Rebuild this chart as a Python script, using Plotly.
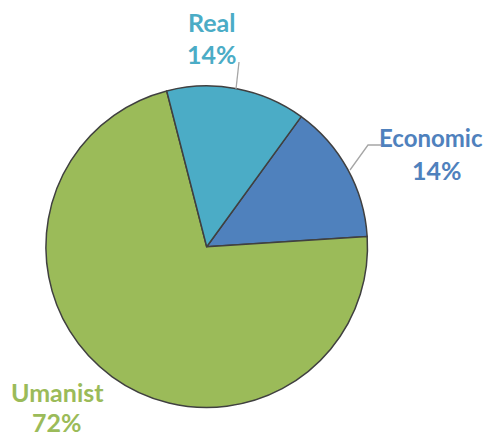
import plotly.graph_objects as go

labels = ["Economic", "Umanist", "Real"]
values = [14, 72, 14]
colors = ["#4F81BD", "#9BBB59", "#4BACC6"]
pct_text = ["14%", "72%", "14%"]

# the page body has an 8px margin; the figure is drawn from (8, 8) of the window
OFF = 8
W, H = 492 - OFF, 434 - OFF
cx, cy, r = 206.7 - OFF, 246.7 - OFF, 160.8

fig = go.Figure(go.Pie(
    labels=labels,
    values=values,
    sort=False,
    direction="clockwise",
    rotation=36,
    marker=dict(colors=colors, line=dict(color="#404040", width=1.5)),
    textinfo="none",
    hoverinfo="label+percent",
    showlegend=False,
    domain=dict(x=[(cx - r) / W, (cx + r) / W], y=[1 - (cy + r) / H, 1 - (cy - r) / H]),
))

font_family = "Lato, 'Open Sans', sans-serif"

def add_text(txt, x, y, col, size, xanchor="center"):
    fig.add_annotation(
        x=(x - OFF) / W, y=1 - (y - OFF) / H, xref="paper", yref="paper",
        text=f"<b>{txt}</b>", showarrow=False,
        font=dict(family=font_family, size=size, color=col),
        align="center", xanchor=xanchor, yanchor="middle",
    )

# (name line, percent line) positions in window pixels
name_pos = {"Economic": (485, 137, "right", 24), "Umanist": (57, 392, "center", 25), "Real": (211.5, 22, "center", 25)}
pct_pos = {"Economic": (437, 170), "Umanist": (57, 422), "Real": (211.5, 53.5)}
for lab, col, pt in zip(labels, colors, pct_text):
    x, y, anc, sz = name_pos[lab]
    add_text(lab, x, y, col, sz, anc)
    x2, y2 = pct_pos[lab]
    add_text(pt, x2, y2, col, 25)

def P(px, py):
    return f"{(px - OFF) / W} {1 - (py - OFF) / H}"

fig.add_shape(type="path", xref="paper", yref="paper",
              path=f"M {P(239, 62)} L {P(236, 89)}",
              line=dict(color="#A6A6A6", width=1.3))
fig.add_shape(type="path", xref="paper", yref="paper",
              path=f"M {P(381, 145)} L {P(368, 145)} L {P(350, 170)}",
              line=dict(color="#A6A6A6", width=1.3))

fig.update_layout(
    width=W, height=H,
    margin=dict(l=0, r=0, t=0, b=0),
    paper_bgcolor="white", plot_bgcolor="white",
)
fig.write_html("out.html")
